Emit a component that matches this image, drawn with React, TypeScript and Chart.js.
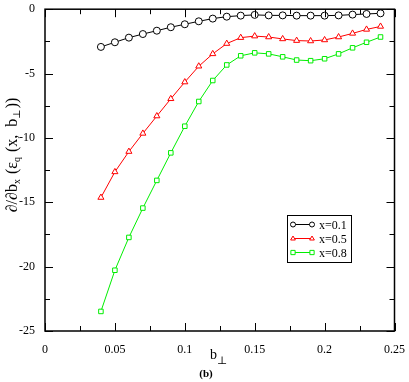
import React, { useEffect, useRef } from "react";
import { Chart, registerables } from "chart.js";

Chart.register(...registerables);

const bPerp = [0.04, 0.05, 0.06, 0.07, 0.08, 0.09, 0.1, 0.11, 0.12, 0.13, 0.14, 0.15, 0.16, 0.17, 0.18, 0.19, 0.2, 0.21, 0.22, 0.23, 0.24];
const seriesX01 = [-2.93, -2.57, -2.21, -1.93, -1.67, -1.4, -1.17, -0.94, -0.73, -0.58, -0.5, -0.44, -0.48, -0.48, -0.5, -0.5, -0.5, -0.48, -0.42, -0.37, -0.32];
const seriesX05 = [-14.63, -12.64, -11.06, -9.65, -8.3, -6.96, -5.66, -4.43, -3.47, -2.67, -2.21, -2.09, -2.16, -2.31, -2.44, -2.47, -2.39, -2.16, -1.88, -1.57, -1.34];
const seriesX08 = [-23.48, -20.28, -17.73, -15.45, -13.3, -11.16, -9.09, -7.17, -5.54, -4.33, -3.62, -3.39, -3.47, -3.7, -3.95, -4.0, -3.85, -3.47, -3.0, -2.57, -2.16];
const seriesLabels = ["x=0.1", "x=0.5", "x=0.8"];
const seriesColors = ["#000000", "#ff0000", "#00ee00"];
const seriesStyles = ["circle", "triangle", "rect"];
const xTickLabels = ["0", "0.05", "0.1", "0.15", "0.2", "0.25"];
const yTickLabels = ["-25", "-20", "-15", "-10", "-5", "0"];

const SERIF = "'Liberation Serif', 'DejaVu Serif', serif";

function drawMarker(ctx: CanvasRenderingContext2D, style: string, x: number, y: number, r: number) {
  ctx.beginPath();
  if (style === "circle") {
    ctx.arc(x, y, r, 0, Math.PI * 2);
  } else if (style === "triangle") {
    ctx.moveTo(x, y - r);
    ctx.lineTo(x + r * 0.95, y + r * 0.6);
    ctx.lineTo(x - r * 0.95, y + r * 0.6);
    ctx.closePath();
  } else {
    ctx.rect(x - r * 0.85, y - r * 0.85, r * 1.7, r * 1.7);
  }
  ctx.fillStyle = "#fff";
  ctx.fill();
  ctx.stroke();
}

const framePlugin = {
  id: "frameTicks",
  afterDraw(chart: any) {
    const ctx = chart.ctx as CanvasRenderingContext2D;
    const { left, right, top, bottom } = chart.chartArea;
    const xs = chart.scales.x;
    const ys = chart.scales.y;
    ctx.save();
    ctx.strokeStyle = "#000";
    ctx.lineWidth = 1.5;
    ctx.strokeRect(left, top, right - left, bottom - top);
    ctx.lineWidth = 1;
    for (let i = 0; i <= 10; i++) {
      const v = i * 0.025;
      const px = Math.round(xs.getPixelForValue(v)) + 0.5;
      const len = i % 2 === 0 ? 8 : 5;
      ctx.beginPath();
      ctx.moveTo(px, bottom);
      ctx.lineTo(px, bottom - len);
      ctx.moveTo(px, top);
      ctx.lineTo(px, top + len);
      ctx.stroke();
    }
    for (let i = 0; i <= 10; i++) {
      const v = -25 + i * 2.5;
      const py = Math.round(ys.getPixelForValue(v)) + 0.5;
      const len = i % 2 === 0 ? 8 : 5;
      ctx.beginPath();
      ctx.moveTo(left, py);
      ctx.lineTo(left + len, py);
      ctx.moveTo(right, py);
      ctx.lineTo(right - len, py);
      ctx.stroke();
    }

    // legend
    const bx = 287, by = 215, bw = 64, bh = 47;
    ctx.fillStyle = "#fff";
    ctx.fillRect(bx, by, bw, bh);
    ctx.strokeStyle = "#000";
    ctx.lineWidth = 1;
    ctx.strokeRect(bx + 0.5, by + 0.5, bw, bh);
    ctx.font = `12px ${SERIF}`;
    ctx.textBaseline = "middle";
    for (let i = 0; i < 3; i++) {
      const y = by + 9.5 + i * 14;
      ctx.strokeStyle = seriesColors[i];
      ctx.lineWidth = 1;
      ctx.beginPath();
      ctx.moveTo(293, y);
      ctx.lineTo(312, y);
      ctx.stroke();
      drawMarker(ctx, seriesStyles[i], 293, y, 2.5);
      drawMarker(ctx, seriesStyles[i], 312, y, 2.5);
      ctx.fillStyle = "#000";
      ctx.textAlign = "left";
      ctx.fillText(seriesLabels[i], 319, y + 1);
    }

    // x title
    ctx.fillStyle = "#000";
    ctx.textAlign = "left";
    ctx.textBaseline = "alphabetic";
    ctx.font = `14px ${SERIF}`;
    ctx.fillText("b", 210, 359);
    ctx.font = `11px ${SERIF}`;
    ctx.fillText("\u22a5", 217, 364);
    ctx.font = `bold 11px ${SERIF}`;
    ctx.textAlign = "center";
    ctx.fillText("(b)", 206, 377);

    // y title
    ctx.save();
    ctx.translate(17, 155);
    ctx.rotate(-Math.PI / 2);
    const parts: [string, boolean][] = [
      ["\u2202/\u2202b", false],
      ["x", true],
      [" (\u03b5", false],
      ["q", true],
      [" (x,  b", false],
      ["\u22a5", true],
      ["))", false],
    ];
    const big = `16px ${SERIF}`;
    const small = `10px ${SERIF}`;
    let total = 0;
    for (const [t, sub] of parts) {
      ctx.font = sub ? small : big;
      total += ctx.measureText(t).width + (sub ? 1 : 0);
    }
    let cx = -total / 2;
    ctx.textAlign = "left";
    for (const [t, sub] of parts) {
      ctx.font = sub ? small : big;
      ctx.fillText(t, cx, sub ? 3 : 0);
      cx += ctx.measureText(t).width + (sub ? 1 : 0);
    }
    ctx.restore();
    ctx.restore();
  },
};

export default function App() {
  const ref = useRef<HTMLCanvasElement | null>(null);
  useEffect(() => {
    document.body.style.margin = "0";
    const canvas = ref.current!;
    const data = [seriesX01, seriesX05, seriesX08];
    const chart = new Chart(canvas, {
      type: "line",
      data: {
        datasets: data.map((arr, i) => ({
          label: seriesLabels[i],
          data: bPerp.map((x, j) => ({ x, y: arr[j] })),
          borderColor: seriesColors[i],
          backgroundColor: "#ffffff",
          pointBorderColor: seriesColors[i],
          pointBackgroundColor: "#ffffff",
          pointStyle: seriesStyles[i] as any,
          pointRadius: i === 2 ? 3.2 : 3.5,
          pointBorderWidth: 1,
          borderWidth: 1,
          tension: 0,
          fill: false,
        })),
      },
      options: {
        responsive: false,
        animation: false,
        events: [],
        layout: { padding: { left: 0, right: 12, top: 5, bottom: 0 } },
        plugins: { legend: { display: false }, tooltip: { enabled: false } },
        scales: {
          x: {
            type: "linear",
            min: 0,
            max: 0.25,
            grid: { display: false },
            border: { display: false },
            ticks: {
              stepSize: 0.05,
              padding: 4,
              color: "#000",
              font: { family: SERIF, size: 12 },
              maxRotation: 0,
              callback: (v: any) => {
                const idx = Math.round(Number(v) / 0.05);
                return xTickLabels[idx] ?? "";
              },
            },
            afterFit: (s: any) => {
              s.height = 51;
            },
          },
          y: {
            type: "linear",
            min: -25,
            max: 0,
            grid: { display: false },
            border: { display: false },
            ticks: {
              stepSize: 5,
              padding: 2,
              color: "#000",
              font: { family: SERIF, size: 12 },
              callback: (v: any) => {
                const idx = Math.round((Number(v) + 25) / 5);
                return yTickLabels[idx] ?? "";
              },
            },
            afterFit: (s: any) => {
              s.width = 45;
            },
          },
        },
      },
      plugins: [framePlugin],
    } as any);
    return () => chart.destroy();
  }, []);
  return (
    <div style={{ position: "absolute", left: 0, top: 0, width: 409, height: 382, background: "#fff" }}>
      <canvas ref={ref} width={409} height={382} style={{ width: 409, height: 382, display: "block" }} />
    </div>
  );
}
